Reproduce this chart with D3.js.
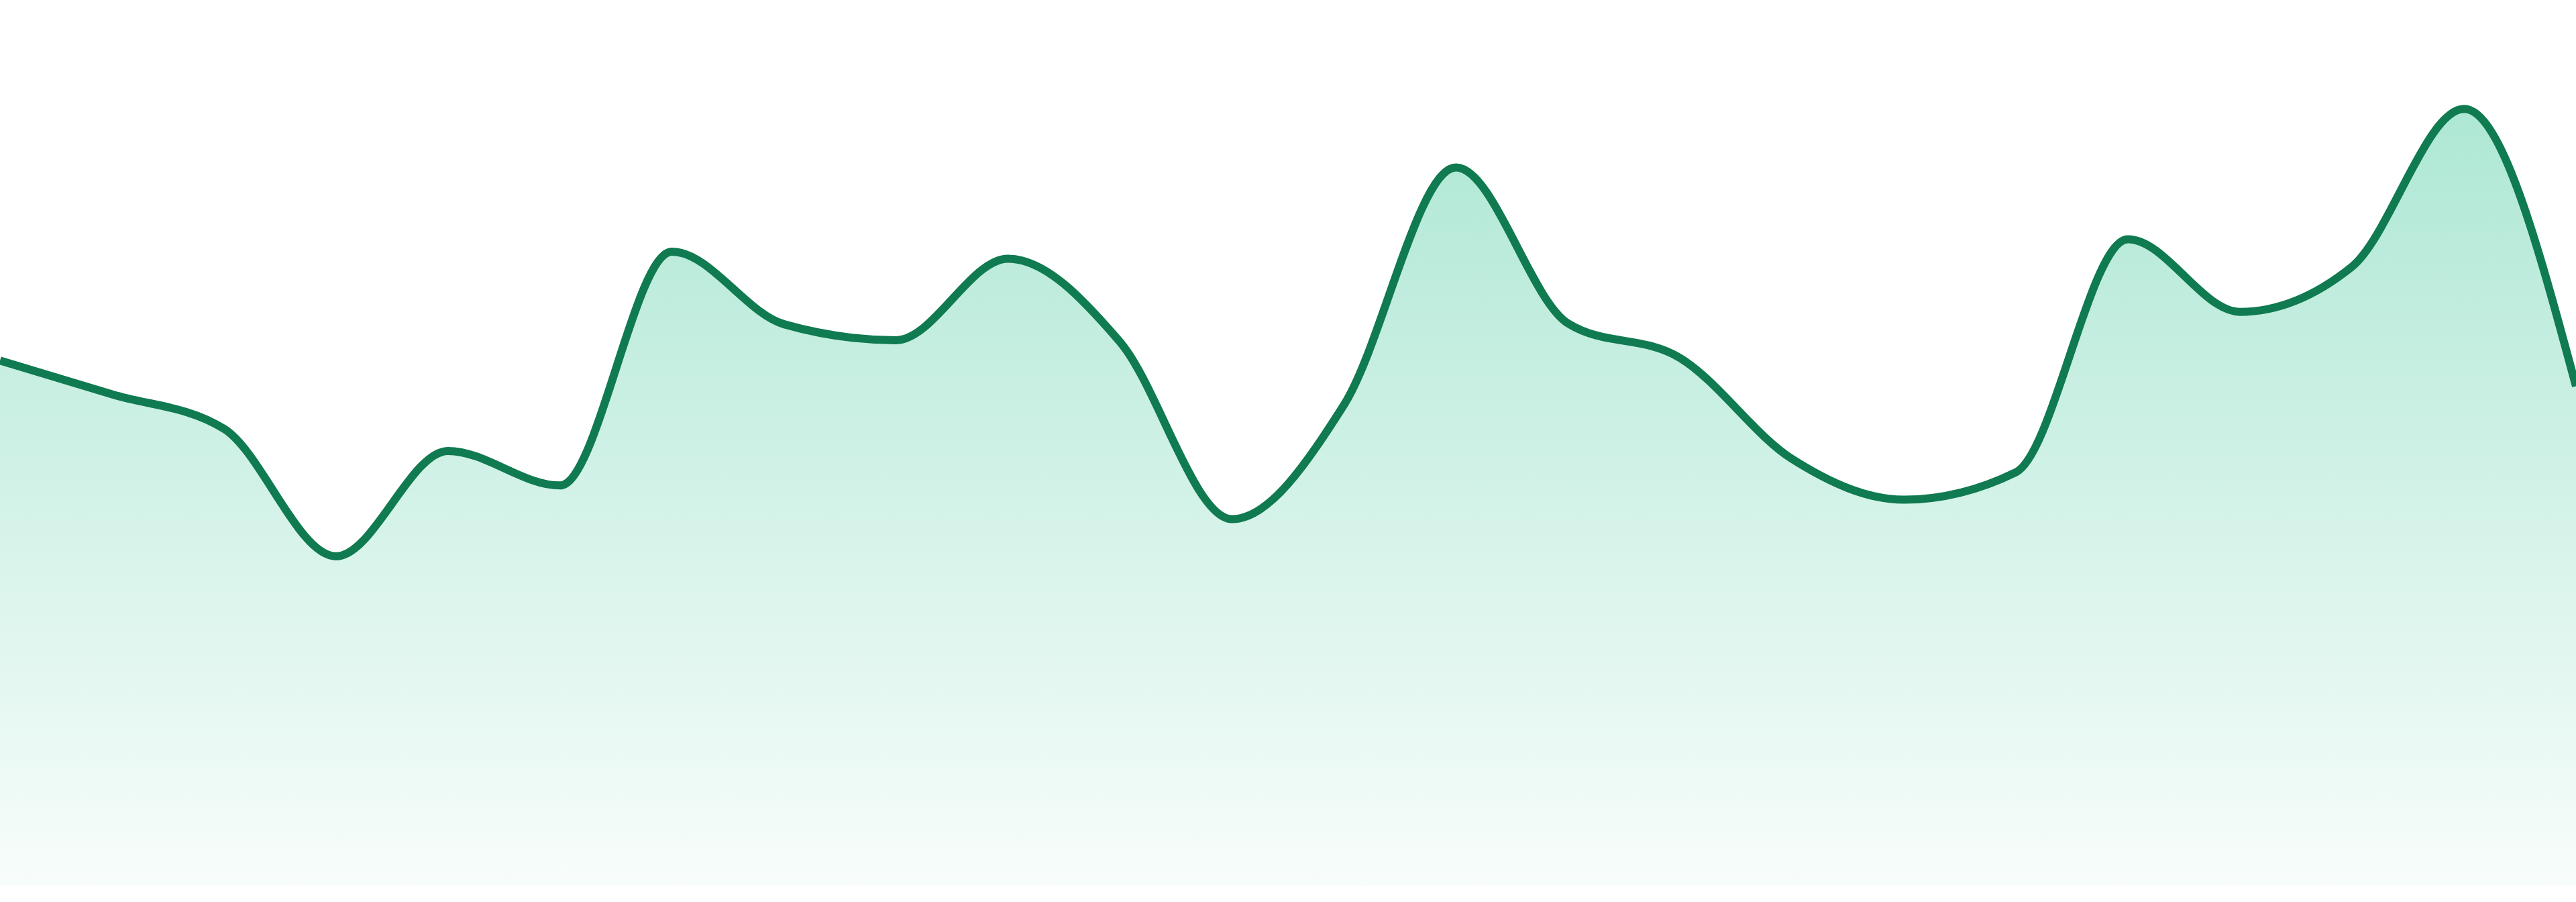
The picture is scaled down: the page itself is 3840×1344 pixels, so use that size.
<!DOCTYPE html>
<html>
<head>
<meta charset="utf-8">
<script src="https://cdn.jsdelivr.net/npm/d3@7"></script>
<style>
  html, body { margin: 0; padding: 0; background: #ffffff; overflow: hidden; }
</style>
</head>
<body>
<div id="canvas"></div>
<script>
"use strict";

let svgWidth = 3840;
let svgHeight = 1344;
let bottomGap = 24;

// values, one per evenly spaced step
let steps = d3.range(24);
let values = [593, 555, 516, 372, 491, 452, 716, 634, 616, 708, 614, 414,
              543, 811, 635, 596, 482, 436, 467, 730, 648, 699, 877, 564];
let valueDomain = [0, 1000];

let svg = d3.select("#canvas")
  .append("svg")
  .attr("width", svgWidth)
  .attr("height", svgHeight)
  .style("display", "block");

let xScale = d3.scaleLinear()
  .domain([0, steps.length - 1])
  .range([0, svgWidth]);

let yScale = d3.scaleLinear()
  .domain(valueDomain)
  .range([svgHeight - bottomGap, 0]);

/* gradient under the line: darker green at the top, almost white at the bottom */
let grad = svg.append("defs")
  .append("linearGradient")
  .attr("id", "fillGrad")
  .attr("x1", 0).attr("y1", 0)
  .attr("x2", 0).attr("y2", 1);

grad.append("stop")
  .attr("offset", "0%")
  .attr("stop-color", "#10b981")
  .attr("stop-opacity", 0.34);

grad.append("stop")
  .attr("offset", "100%")
  .attr("stop-color", "#10b981")
  .attr("stop-opacity", 0.03);

let area = d3.area()
  .x(function(d, i){ return xScale(steps[i]); })
  .y0(yScale(0))
  .y1(function(d){ return yScale(d); })
  .curve(d3.curveMonotoneX);

let line = d3.line()
  .x(function(d, i){ return xScale(steps[i]); })
  .y(function(d){ return yScale(d); })
  .curve(d3.curveMonotoneX);

svg.append("path")
  .datum(values)
  .attr("d", area)
  .attr("fill", "url(#fillGrad)");

svg.append("path")
  .datum(values)
  .attr("d", line)
  .attr("fill", "none")
  .attr("stroke", "#107a50")
  .attr("stroke-width", 12)
  .attr("stroke-linejoin", "round");
</script>
</body>
</html>
